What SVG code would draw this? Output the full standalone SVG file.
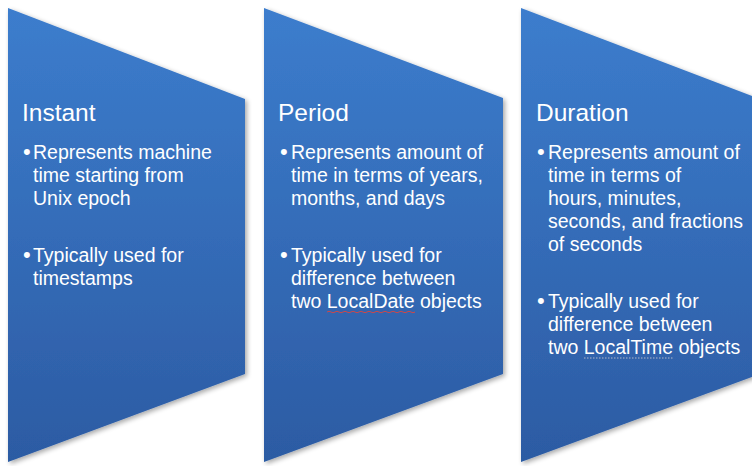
<svg xmlns="http://www.w3.org/2000/svg" width="752" height="466" viewBox="0 0 752 466">
  <defs>
    <linearGradient id="g" x1="0" y1="0" x2="0" y2="1">
      <stop offset="0" stop-color="#3c7dcd"/>
      <stop offset="1" stop-color="#2c5ba3"/>
    </linearGradient>
    <filter id="sh" x="-5%" y="-5%" width="115%" height="115%">
      <feGaussianBlur in="SourceAlpha" stdDeviation="2.5"/>
      <feOffset dx="2" dy="2" result="b"/>
      <feComponentTransfer><feFuncA type="linear" slope="0.35"/></feComponentTransfer>
      <feMerge><feMergeNode/><feMergeNode in="SourceGraphic"/></feMerge>
    </filter>
  </defs>
  <style>
    .shape { fill: url(#g); filter: url(#sh); }
    .title { font-family: "Liberation Sans", Arial, sans-serif; font-size: 24.5px; fill: #ffffff; }
    .body { font-family: "Liberation Sans", Arial, sans-serif; font-size: 19.5px; fill: #ffffff; }
    .dot { font-family: "Liberation Sans", Arial, sans-serif; font-size: 22px; fill: #ffffff; }
  </style>
  <rect width="752" height="466" fill="#ffffff"/>

  <g id="instant">
    <polygon class="shape" points="8,8 245,99 245,374 8,462"/>
    <text class="title" x="22" y="121">Instant</text>
    <text class="dot" x="23" y="159">•</text>
    <text class="body" x="33" y="159">Represents machine</text>
    <text class="body" x="33" y="182">time starting from</text>
    <text class="body" x="33" y="205">Unix epoch</text>
    <text class="dot" x="23" y="262">•</text>
    <text class="body" x="33" y="262">Typically used for</text>
    <text class="body" x="33" y="285">timestamps</text>
  </g>

  <g id="period">
    <polygon class="shape" points="264,8 503,98 503,374 264,462"/>
    <text class="title" x="278" y="121">Period</text>
    <text class="dot" x="280" y="159">•</text>
    <text class="body" x="291" y="159">Represents amount of</text>
    <text class="body" x="291" y="182">time in terms of years,</text>
    <text class="body" x="291" y="205">months, and days</text>
    <text class="dot" x="280" y="262">•</text>
    <text class="body" x="291" y="262">Typically used for</text>
    <text class="body" x="291" y="285">difference between</text>
    <text class="body" x="291" y="308">two LocalDate objects</text>
    <path d="M327,312 q2,-1.5 4,0 t4,0 t4,0 t4,0 t4,0 t4,0 t4,0 t4,0 t4,0 t4,0 t4,0 t4,0 t4,0 t4,0 t4,0 t4,0 t4,0 t4,0 t4,0 t4,0 t4,0 t4,0" fill="none" stroke="#d04848" stroke-width="1"/>
  </g>

  <g id="duration">
    <polygon class="shape" points="521,8 760,99 760,374 521,462"/>
    <text class="title" x="536" y="121">Duration</text>
    <text class="dot" x="537" y="159">•</text>
    <text class="body" x="548" y="159">Represents amount of</text>
    <text class="body" x="548" y="182">time in terms of</text>
    <text class="body" x="548" y="205">hours, minutes,</text>
    <text class="body" x="548" y="228">seconds, and fractions</text>
    <text class="body" x="548" y="251">of seconds</text>
    <text class="dot" x="537" y="308">•</text>
    <text class="body" x="548" y="308">Typically used for</text>
    <text class="body" x="548" y="331">difference between</text>
    <text class="body" x="548" y="354">two LocalTime objects</text>
    <line x1="584" y1="358" x2="674" y2="358" stroke="#b0b8c8" stroke-width="1" stroke-dasharray="1.5,1.5"/>
  </g>

  <g id="connectors"/>
</svg>
